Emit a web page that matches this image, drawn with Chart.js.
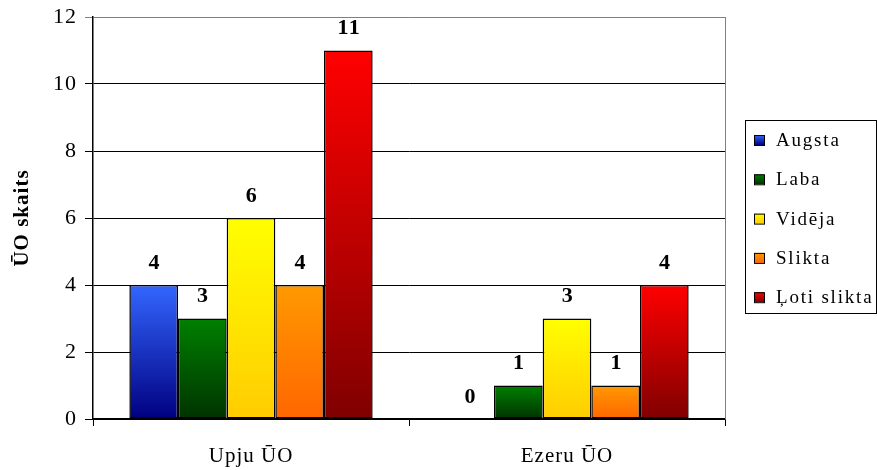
<!DOCTYPE html>
<html>
<head>
<meta charset="utf-8">
<script src="https://cdn.jsdelivr.net/npm/chart.js@4"></script>
<style>
  html, body { margin: 0; padding: 0; background: #fff; }
  #chart { display: block; }
</style>
</head>
<body>
<canvas id="chart" width="877" height="470"></canvas>
<script>
// 数据
const categories = ['Upju ŪO', 'Ezeru ŪO'];
const seriesNames = ['Augsta', 'Laba', 'Vidēja', 'Slikta', 'Ļoti slikta'];
const augsta = [4, 0];
const laba = [3, 1];
const videja = [6, 3];
const slikta = [4, 1];
const lotiSlikta = [11, 4];
const yTicks = [0, 2, 4, 6, 8, 10, 12];

// 渐变色 (上 -> 下)
const gradColors = [
  ['#3366ff', '#000080'],
  ['#008000', '#003300'],
  ['#ffff00', '#ffcc00'],
  ['#ff9900', '#ff6600'],
  ['#ff0000', '#800000']
];

const FONT = "'Liberation Serif', 'Times New Roman', serif";

function barGradient(ctx, top, bottom, pair) {
  const g = ctx.createLinearGradient(0, top, 0, bottom);
  g.addColorStop(0, pair[0]);
  g.addColorStop(1, pair[1]);
  return g;
}

function scriptedFill(di) {
  return function (context) {
    const chart = context.chart;
    const y = chart.scales && chart.scales.y;
    if (!chart.chartArea || !y || context.dataIndex === undefined) return gradColors[di][0];
    const v = context.raw;
    const top = y.getPixelForValue(v);
    const bottom = y.getPixelForValue(0);
    if (bottom - top < 1) return gradColors[di][0];
    return barGradient(chart.ctx, top, bottom, gradColors[di]);
  };
}

const allSeries = [augsta, laba, videja, slikta, lotiSlikta];

const datasets = allSeries.map((vals, i) => ({
  label: seriesNames[i],
  data: vals,
  backgroundColor: scriptedFill(i),
  borderColor: '#000',
  borderWidth: 1.5,
  borderSkipped: false,
  barPercentage: 1.0,
  categoryPercentage: 0.77
}));

// 字距 (参考图文字较宽)
const spacing = {
  id: 'spacing',
  beforeInit(chart) { chart.ctx.letterSpacing = '1px'; },
  beforeDraw(chart) { chart.ctx.letterSpacing = '1px'; }
};

// 数值标签 + 右边框 + 图例
const extras = {
  id: 'extras',
  afterDatasetsDraw(chart) {
    const ctx = chart.ctx;
    const area = chart.chartArea;
    ctx.save();
    // 右边框
    ctx.strokeStyle = '#808080';
    ctx.lineWidth = 1;
    ctx.beginPath();
    ctx.moveTo(area.right + 0.5, area.top);
    ctx.lineTo(area.right + 0.5, area.bottom);
    ctx.stroke();

    // 数值标签
    ctx.fillStyle = '#000';
    ctx.font = 'bold 22px ' + FONT;
    ctx.letterSpacing = '1.5px';
    ctx.textAlign = 'center';
    ctx.textBaseline = 'middle';
    chart.data.datasets.forEach((ds, i) => {
      chart.getDatasetMeta(i).data.forEach((bar, j) => {
        ctx.fillText(String(ds.data[j]), bar.x + 1, bar.y - 22);
      });
    });

    // 图例
    const lx = 745, ly = 120, lw = 131, lh = 193;
    ctx.fillStyle = '#fff';
    ctx.fillRect(lx, ly, lw, lh);
    ctx.strokeStyle = '#000';
    ctx.lineWidth = 1;
    ctx.strokeRect(lx + 0.5, ly + 0.5, lw, lh);
    ctx.font = '19px ' + FONT;
    ctx.letterSpacing = '1.8px';
    ctx.textAlign = 'left';
    chart.data.datasets.forEach((ds, i) => {
      const cy = 140 + i * 39.3;
      const sx = 754, s = 10;
      ctx.fillStyle = barGradient(ctx, cy - s / 2, cy + s / 2, gradColors[i]);
      ctx.fillRect(sx, cy - s / 2, s, s);
      ctx.strokeStyle = '#000';
      ctx.strokeRect(sx + 0.5, cy - s / 2 + 0.5, s, s);
      ctx.fillStyle = '#000';
      ctx.fillText(ds.label, 776, cy + 1);
    });
    ctx.restore();
  }
};

new Chart(document.getElementById('chart'), {
  type: 'bar',
  data: { labels: categories, datasets: datasets },
  options: {
    responsive: false,
    animation: false,
    layout: { padding: { top: 17, right: 152, left: 0, bottom: 0 } },
    plugins: {
      legend: { display: false },
      tooltip: { enabled: false }
    },
    scales: {
      x: {
        afterFit(scale) { scale.height = 51; },
        grid: {
          offset: true,
          drawOnChartArea: false,
          color: '#000',
          tickLength: 7
        },
        border: { color: '#000', width: 1.5 },
        ticks: {
          color: '#000',
          font: { family: FONT, size: 21 },
          padding: 18
        }
      },
      y: {
        min: 0,
        max: 12,
        afterFit(scale) {
          scale.width = 93;
          scale.paddingTop = 0;
          scale.paddingBottom = 0;
        },
        afterBuildTicks(scale) { scale.ticks = yTicks.map(v => ({ value: v })); },
        grid: {
          color: ctx => (ctx.tick && ctx.tick.value === 12 ? '#808080' : '#000'),
          lineWidth: 1,
          tickLength: 8
        },
        border: { color: '#000', width: 1.5 },
        ticks: {
          color: '#000',
          font: { family: FONT, size: 22 },
          padding: 8
        },
        title: {
          display: true,
          text: 'ŪO skaits',
          color: '#000',
          font: { family: FONT, size: 21, weight: 'bold' },
          padding: { top: 10, bottom: 0 }
        }
      }
    }
  },
  plugins: [spacing, extras]
});
</script>
</body>
</html>
